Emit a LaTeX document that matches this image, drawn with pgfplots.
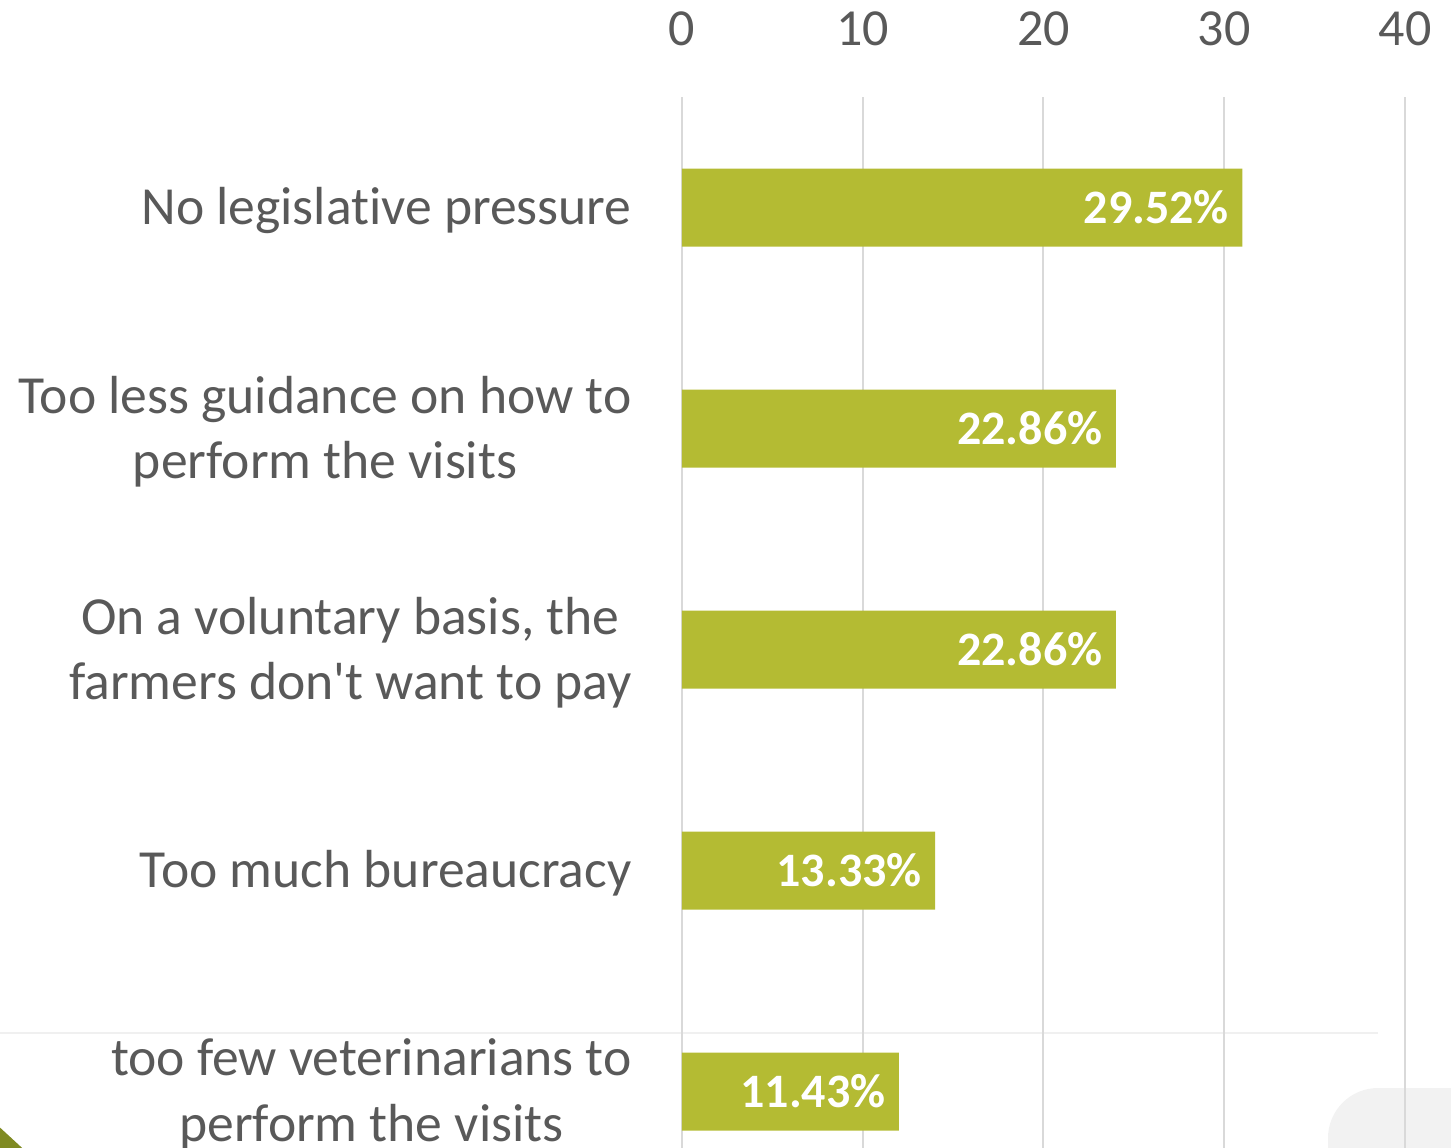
\documentclass[border=0pt]{standalone}
\usepackage{fontspec}
\setmainfont{Carlito}[Ligatures={NoCommon}]
\usepackage{pgfplots}
\pgfplotsset{compat=1.18}
\definecolor{bargreen}{HTML}{B4BB33}
\definecolor{labelgray}{HTML}{595959}
\definecolor{gridgray}{HTML}{D9D9D9}
\definecolor{darkolive}{HTML}{7F8A22}

\begin{document}
\begin{tikzpicture}
% slide decorations behind the chart
\fill[black!5, rounded corners=25pt] (323pt,-495.5pt) rectangle (430pt,-580pt);
\fill[darkolive] (-350pt,-507pt) -- (-325pt,-530pt) -- (-350pt,-530pt) -- cycle;
\draw[line width=1pt, black!6] (-345pt,-468pt) -- (348pt,-468pt);
\begin{axis}[
  at={(0,0)}, anchor=north west,
  scale only axis, width=361.5pt, height=552.5pt,
  xbar, bar width=39pt,
  xmin=0, xmax=40, ymin=-0.5, ymax=4.5, y dir=reverse,
  xtick={0,10,...,40}, ytick={0,...,4},
  yticklabels={No legislative pressure,
    {Too less guidance on how to\\perform the visits},
    {On a voluntary basis, the\\farmers don\textquotesingle t want to pay},
    Too much bureaucracy,
    {too few veterinarians to\\perform the visits}},
  xticklabel pos=top,
  axis line style={draw=none},
  major tick length=0pt,
  xmajorgrids, grid style={gridgray, line width=1pt},
  tick label style={text=labelgray},
  /pgf/number format/assume math mode=true,
  xticklabel style={font=\fontsize{26}{32}\selectfont, anchor=base, inner sep=0pt, yshift=26pt},
  yticklabel style={font=\fontsize{26.8}{32.8}\selectfont, align=center, anchor=east,
    inner sep=0pt, xshift=-25pt, yshift=-1.5pt},
  point meta=explicit symbolic,
  nodes near coords,
  every node near coord/.append style={anchor=east, xshift=-6.5pt, inner sep=0pt,
    text=white, font=\fontsize{24}{29}\selectfont\bfseries},
  clip=false,
]
\addplot[fill=bargreen, draw=none] coordinates {
  (31,0) [29.52\%]
  (24,1) [22.86\%]
  (24,2) [22.86\%]
  (14,3) [13.33\%]
  (12,4) [11.43\%]
};
\end{axis}
\pgfresetboundingbox
\useasboundingbox (-341pt,48.5pt) rectangle (384.5pt,-525pt);
\end{tikzpicture}
\end{document}
